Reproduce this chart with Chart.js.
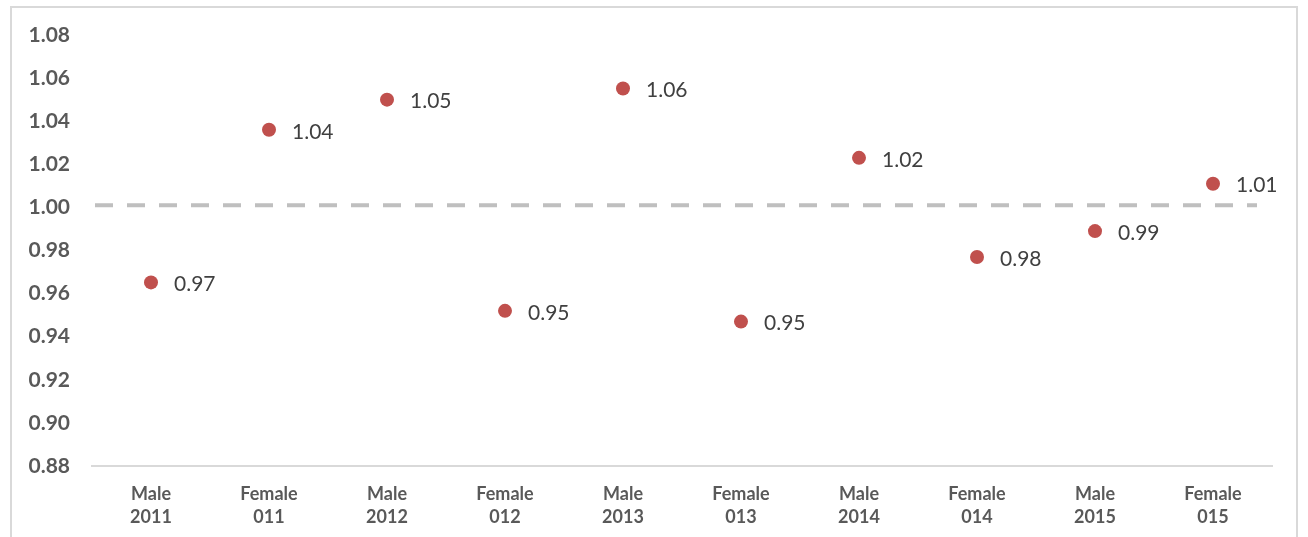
<!DOCTYPE html>
<html>
<head>
<meta charset="utf-8">
<script src="https://cdn.jsdelivr.net/npm/chart.js@4"></script>
<style>
  html, body { margin: 0; padding: 0; background: #fff; }
  #wrap { position: relative; width: 1308px; height: 537px; }
  #frame { position: absolute; left: 10px; top: 6px; width: 1288px; height: 540px;
           border: 2px solid #d9d9d9; box-sizing: border-box; pointer-events: none; }
</style>
</head>
<body>
<div id="wrap">
  <canvas id="ratioChart" width="1308" height="537"></canvas>
  <div id="frame"></div>
</div>
<script>
// chart data
const categories = [
  ["Male", "2011"], ["Female", "011"], ["Male", "2012"], ["Female", "012"],
  ["Male", "2013"], ["Female", "013"], ["Male", "2014"], ["Female", "014"],
  ["Male", "2015"], ["Female", "015"]
];
const ratios = [0.9652, 1.036, 1.050, 0.952, 1.0552, 0.947, 1.023, 0.977, 0.989, 1.011];
const refLine = 1.001;
const yMin = 0.88;
const yMax = 1.08;
const yStep = 0.02;

const fontFamily = "Lato, 'Open Sans', sans-serif";

// dashed reference line across the plot
const refLinePlugin = {
  id: "refLine",
  beforeDatasetsDraw(chart) {
    const { ctx, chartArea, scales } = chart;
    const y = scales.y.getPixelForValue(refLine);
    ctx.save();
    ctx.strokeStyle = "#bfbfbf";
    ctx.lineWidth = 4;
    ctx.setLineDash([18, 14]);
    ctx.beginPath();
    ctx.moveTo(chartArea.left + 3, y);
    ctx.lineTo(chartArea.right - 15, y);
    ctx.stroke();
    ctx.restore();
  }
};

// value labels to the right of each point
const valueLabels = {
  id: "valueLabels",
  afterDatasetsDraw(chart) {
    const { ctx } = chart;
    const meta = chart.getDatasetMeta(0);
    ctx.save();
    ctx.font = "21px " + fontFamily;
    ctx.fillStyle = "#404040";
    ctx.textAlign = "left";
    ctx.textBaseline = "middle";
    meta.data.forEach((pt, i) => {
      ctx.fillText(ratios[i].toFixed(2), pt.x + 23, pt.y + 2);
    });
    ctx.restore();
  }
};

const ctx = document.getElementById("ratioChart").getContext("2d");
new Chart(ctx, {
  type: "line",
  data: {
    labels: categories,
    datasets: [{
      data: ratios,
      showLine: false,
      pointRadius: 7,
      pointHoverRadius: 7,
      pointBackgroundColor: "#c0504d",
      pointBorderColor: "#c0504d",
      pointBorderWidth: 0
    }]
  },
  options: {
    responsive: false,
    animation: false,
    layout: { padding: { left: 10, top: 35, right: 36, bottom: 0 } },
    plugins: {
      legend: { display: false },
      tooltip: { enabled: false }
    },
    scales: {
      x: {
        offset: true,
        grid: { display: false },
        border: { display: true, color: "#d9d9d9", width: 2 },
        ticks: {
          color: "#595959",
          font: { family: fontFamily, size: 18, weight: "bold", lineHeight: 1.28 },
          padding: 9,
          maxRotation: 0,
          autoSkip: false
        },
        afterFit(scale) { scale.height = 71; }
      },
      y: {
        min: yMin,
        max: yMax,
        grid: { display: false },
        border: { display: false },
        ticks: {
          stepSize: yStep,
          color: "#595959",
          font: { family: fontFamily, size: 21, weight: "bold" },
          padding: 14,
          callback: (v) => v.toFixed(2)
        },
        afterFit(scale) { scale.width = 82; }
      }
    }
  },
  plugins: [refLinePlugin, valueLabels]
});
</script>
</body>
</html>
